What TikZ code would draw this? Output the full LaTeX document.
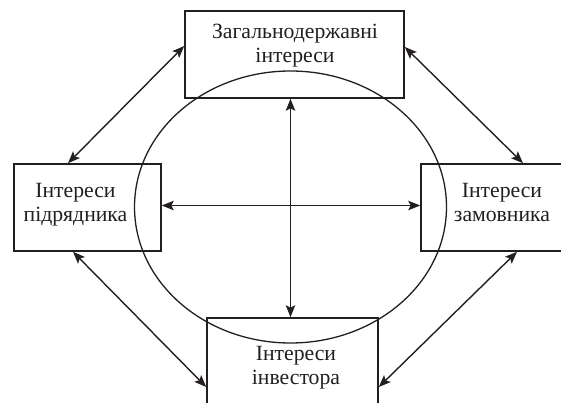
\documentclass[tikz,border=0pt]{standalone}
\usepackage{fontspec}
\setmainfont{Liberation Serif}
\usetikzlibrary{arrows.meta,shapes.geometric}
\definecolor{ink}{HTML}{231F20}
\tikzset{
  box/.style={draw=ink, line width=1.6pt, rectangle, inner sep=0pt},
  lbl/.style={text=ink, font=\fontsize{21.7}{24.5}\selectfont, align=center, anchor=base, inner sep=0pt},
  link/.style={draw=ink, line width=1.4pt, {Stealth[length=12pt,width=9.5pt,inset=2.5pt]}-{Stealth[length=12pt,width=9.5pt,inset=2.5pt]}}
}
\begin{document}
\begin{tikzpicture}[x=1pt,y=1pt]
\useasboundingbox (0,0) rectangle (561,403);
\clip (0,0) rectangle (561,403);
\fill[white] (0,0) rectangle (561,403);
\node[box, minimum width=219pt, minimum height=87pt] (topb) at (294.5,348.5) {};
\node[box, minimum width=147pt, minimum height=87pt] (lb) at (87.5,195.5) {};
\node[box, minimum width=162pt, minimum height=87pt] (rb) at (502,195.5) {};
\node[box, minimum width=171pt, minimum height=87pt] (botb) at (292.5,41.5) {};
\node[draw=ink, line width=1.3pt, ellipse, minimum width=312pt, minimum height=272pt, inner sep=0pt] (ell) at (290.5,196) {};
\node[lbl] (ttop) at (295,340) {Загальнодержавні\\інтереси};
\node[lbl] (tl) at (75.5,181) {Інтереси\\підрядника};
\node[lbl] (tr) at (502,181) {Інтереси\\замовника};
\node[lbl] (tb) at (296,18) {Інтереси\\інвестора};
\draw[link] (ell.center |- topb.south) -- (ell.center |- botb.north);
\draw[link] ([yshift=2pt]lb.east) -- ([yshift=2pt]rb.west);
\draw[link] ([yshift=8.5pt]topb.west) -- ([xshift=-19.5pt]lb.north);
\draw[link] ([yshift=7.5pt]topb.east) -- ([xshift=21pt]rb.north);
\draw[link] ([xshift=-14.5pt]lb.south) -- ([yshift=-25.5pt]botb.west);
\draw[link] ([xshift=15pt]rb.south) -- ([yshift=-25.5pt]botb.east);
\end{tikzpicture}
\end{document}
